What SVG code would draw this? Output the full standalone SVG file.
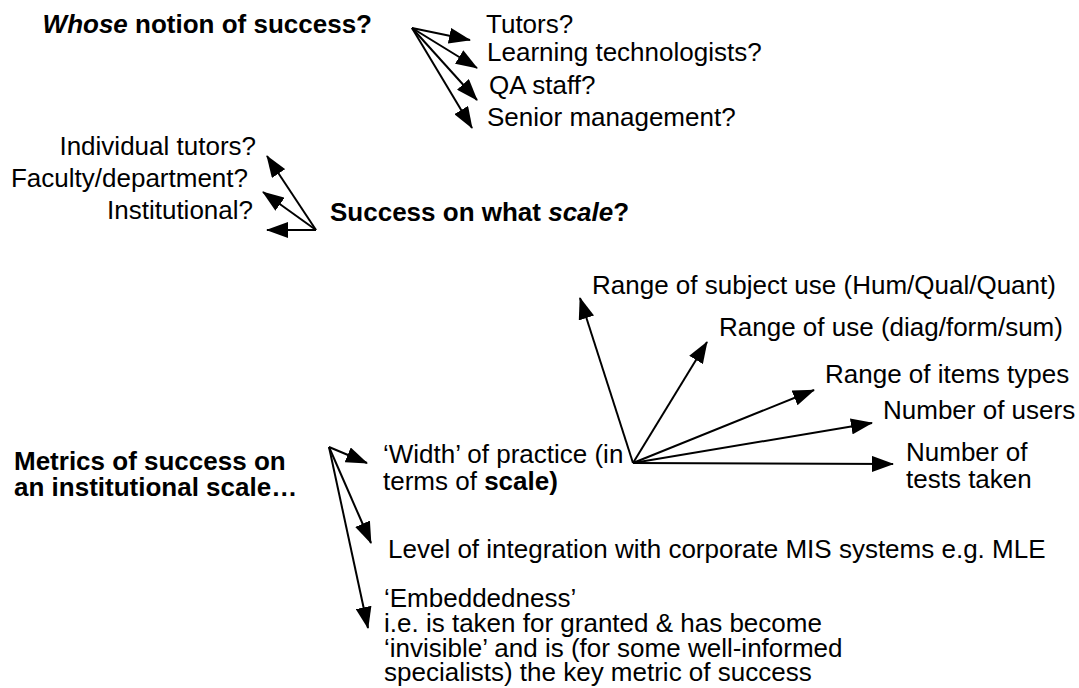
<svg xmlns="http://www.w3.org/2000/svg" width="1079" height="688" viewBox="0 0 1079 688">
<defs>
<marker id="ah" markerUnits="userSpaceOnUse" markerWidth="22" markerHeight="16" refX="21" refY="8" orient="auto">
<path d="M0,0 L22,8 L0,16 z" fill="#000"/>
</marker>
<style>
text{font-family:"Liberation Sans",Arial,sans-serif;font-size:26px;fill:#000}
.b{font-weight:bold}
.bi{font-weight:bold;font-style:italic}
.r{text-anchor:end}
.c line{stroke:#000;stroke-width:2;marker-end:url(#ah)}
</style>
</defs>
<rect width="1079" height="688" fill="#fff"/>
<g id="connectors" class="c">
<line x1="412" y1="28" x2="470" y2="40"/>
<line x1="412" y1="28" x2="477" y2="68"/>
<line x1="412" y1="28" x2="477" y2="100"/>
<line x1="412" y1="28" x2="472" y2="128"/>
<line x1="316" y1="230" x2="267" y2="156"/>
<line x1="316" y1="230" x2="263" y2="192"/>
<line x1="316" y1="230" x2="267" y2="230"/>
<line x1="329" y1="447" x2="367" y2="463"/>
<line x1="329" y1="447" x2="371" y2="543"/>
<line x1="329" y1="447" x2="368" y2="628"/>
<line x1="633" y1="463" x2="580" y2="298"/>
<line x1="633" y1="463" x2="707" y2="342"/>
<line x1="633" y1="463" x2="814" y2="390"/>
<line x1="633" y1="463" x2="872" y2="423"/>
<line x1="633" y1="463" x2="893" y2="464"/>
</g>
<g id="whose"><text x="372" y="33" class="b r"><tspan class="bi">Whose</tspan> notion of success?</text></g>
<g id="tutors"><text x="486" y="33">Tutors?</text></g>
<g id="learning"><text x="487" y="61">Learning technologists?</text></g>
<g id="qa"><text x="489" y="94">QA staff?</text></g>
<g id="senior"><text x="487" y="126">Senior management?</text></g>
<g id="individual"><text x="256" y="155" class="r">Individual tutors?</text></g>
<g id="faculty"><text x="248" y="187" class="r">Faculty/department?</text></g>
<g id="institutional"><text x="253" y="219" class="r">Institutional?</text></g>
<g id="scale"><text x="330" y="221" class="b">Success on what <tspan class="bi">scale</tspan>?</text></g>
<g id="metrics"><text x="14" y="470" class="b">Metrics of success on</text><text x="14" y="496" class="b">an institutional scale…</text></g>
<g id="width"><text x="383" y="463">‘Width’ of practice (in</text><text x="383" y="490">terms of <tspan class="b">scale)</tspan></text></g>
<g id="level"><text x="388" y="558">Level of integration with corporate MIS systems e.g. MLE</text></g>
<g id="embed"><text x="384" y="607">‘Embeddedness’</text><text x="384" y="632">i.e. is taken for granted &amp; has become</text><text x="384" y="657">‘invisible’ and is (for some well-informed</text><text x="384" y="681">specialists) the key metric of success</text></g>
<g id="subject"><text x="592" y="294">Range of subject use (Hum/Qual/Quant)</text></g>
<g id="use"><text x="719" y="336">Range of use (diag/form/sum)</text></g>
<g id="items"><text x="825" y="383">Range of items types</text></g>
<g id="users"><text x="883" y="419">Number of users</text></g>
<g id="tests"><text x="906" y="461">Number of</text><text x="906" y="488">tests taken</text></g>
</svg>
